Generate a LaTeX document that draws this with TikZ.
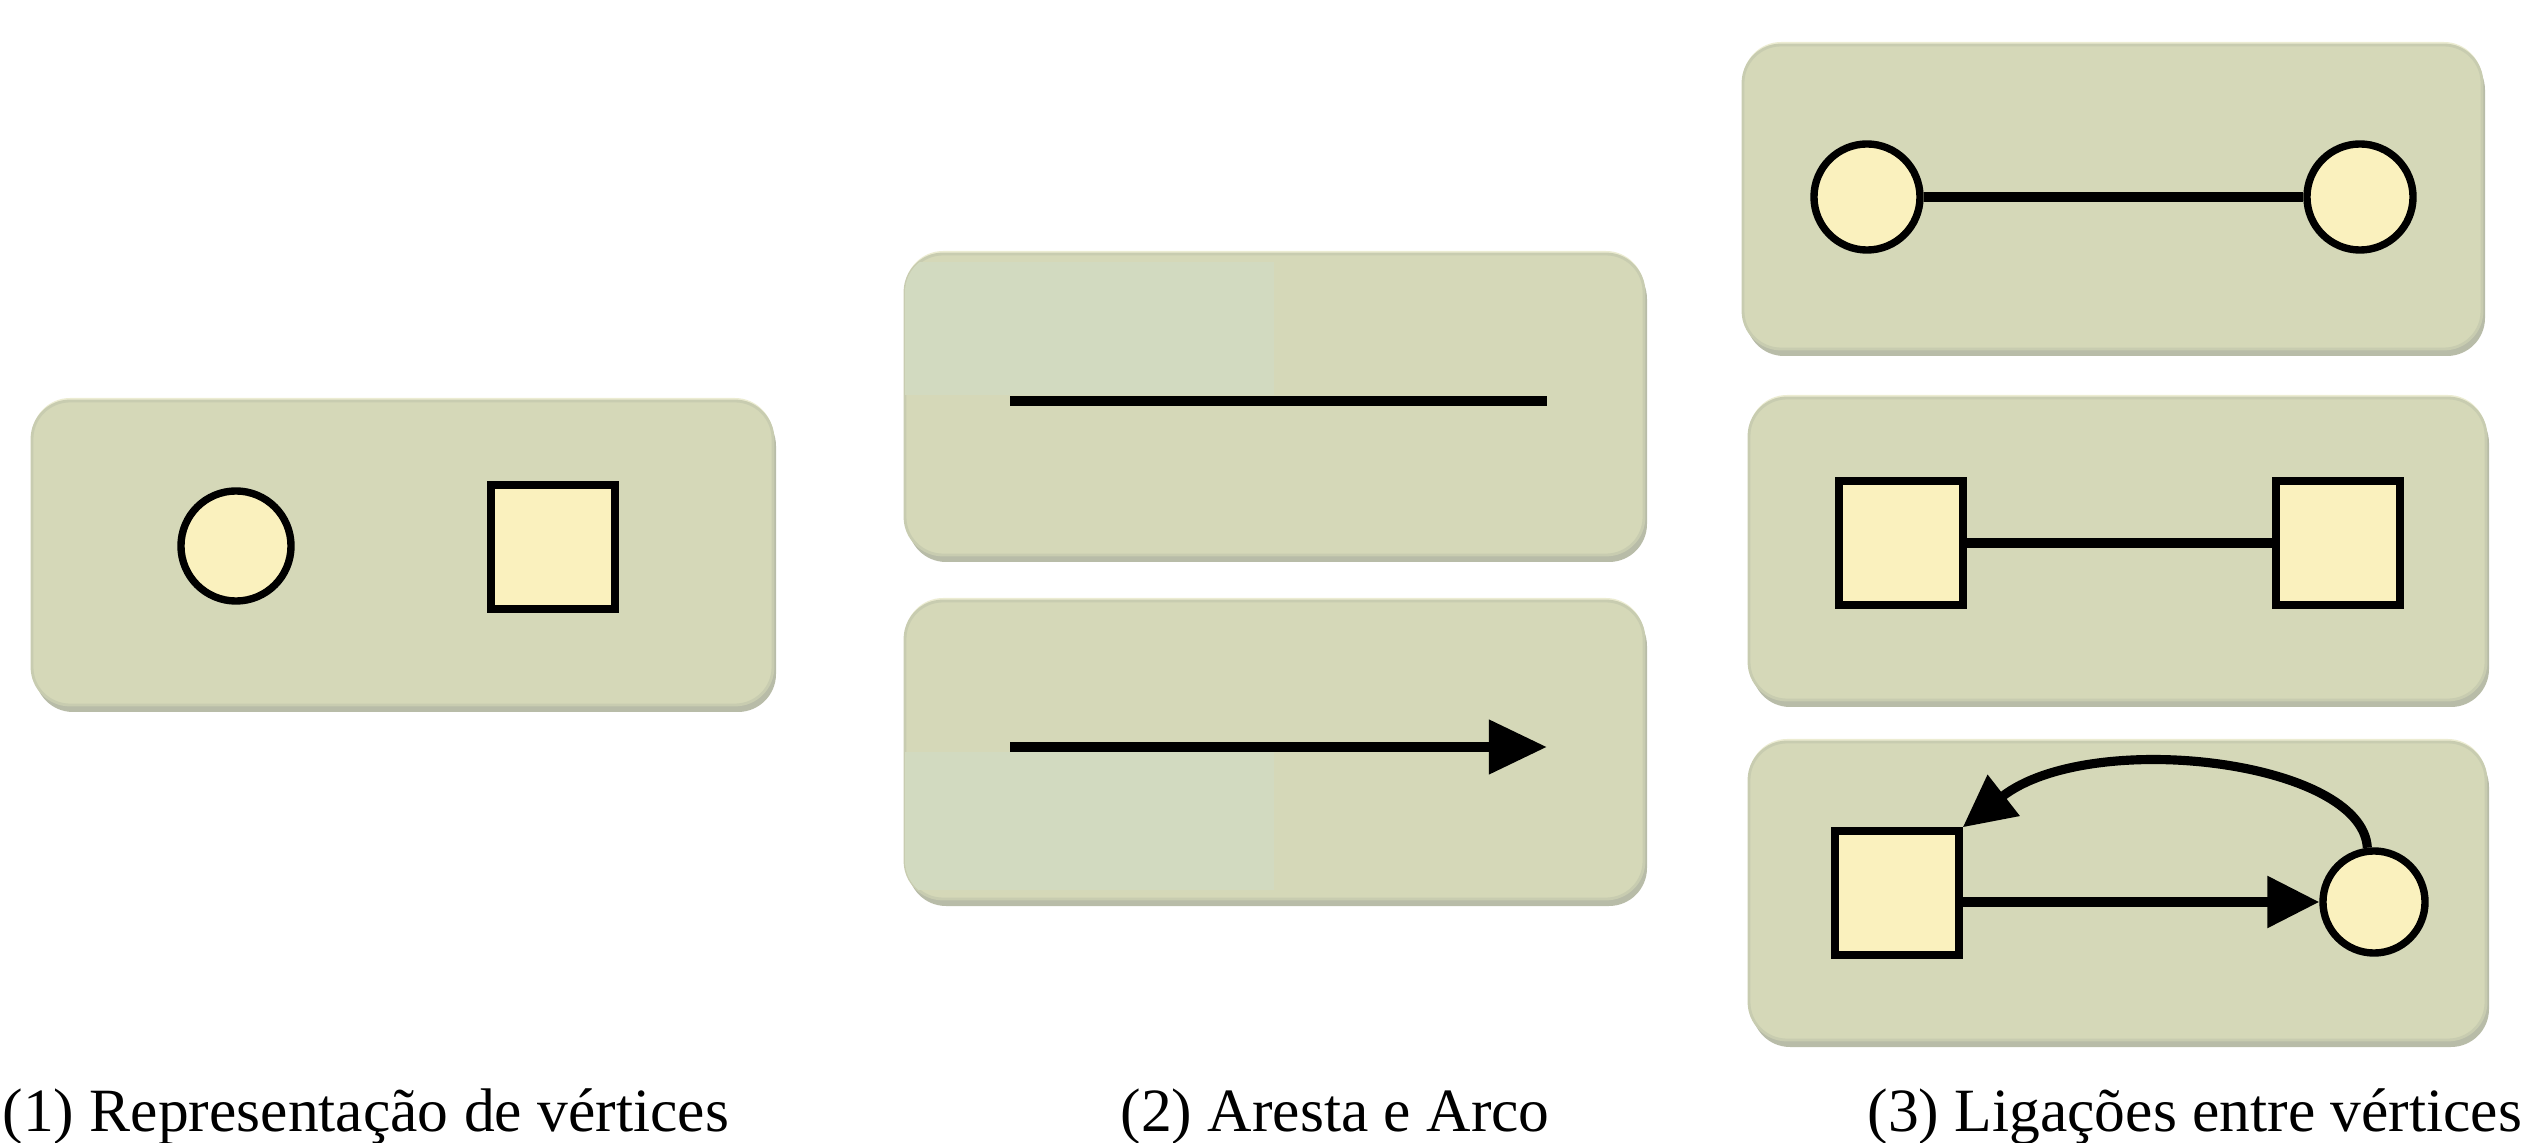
\documentclass[tikz,border=0pt]{standalone}
\usepackage{fontspec}
\setmainfont{Liberation Serif}
\usetikzlibrary{arrows.meta}
\definecolor{panelfill}{RGB}{213,216,184}
\definecolor{panelleft}{RGB}{210,218,192}
\definecolor{panelshade}{RGB}{184,188,168}
\definecolor{panelrim}{RGB}{200,204,176}
\definecolor{panelhi}{RGB}{236,236,210}
\definecolor{vfill}{RGB}{250,241,190}
% rounded panel with a soft drop shade: #1,#2 top-left, #3,#4 bottom-right
\newcommand\drawpanel[4]{%
  \fill[panelshade,rounded corners=0.38cm] (#1+3,#2+7) rectangle (#3+3,#4+7);
  \fill[panelhi,rounded corners=0.38cm] (#1,#2-3) rectangle (#3,#4-6);
  \filldraw[panelbox] (#1,#2) rectangle (#3,#4);}
\begin{document}
\begin{tikzpicture}[x=0.01cm,y=-0.01cm,
  panelbox/.style={fill=panelfill,draw=panelrim,line width=0.8pt,rounded corners=0.38cm},
  vcirc/.style={circle,draw=black,fill=vfill,line width=2.1pt,minimum size=1.06cm,inner sep=0pt},
  vsq/.style={rectangle,draw=black,fill=vfill,line width=2.1pt,minimum size=1.24cm,inner sep=0pt},
  thickline/.style={line width=3pt,black},
  edgeline/.style={line width=2.6pt,black},
  bigarc/.style={thickline,-{Triangle[length=0.58cm,width=0.52cm]}},
  smallarc/.style={edgeline,-{Triangle[length=0.52cm,width=0.5cm]}},
  caption/.style={anchor=base west,font=\fontsize{17.5}{20}\selectfont,inner sep=0pt}]
\useasboundingbox (0,0) rectangle (2535,1143);

% (1) vertex shapes
\drawpanel{32}{401}{773}{705}
\node[vcirc,minimum size=1.1cm] (c1) at (236,546) {};
\node[vsq] (s1) at (553,547) {};

% (2) edge and arc
\drawpanel{905}{254}{1644}{555}
\begin{scope}
  \clip[rounded corners=0.38cm] (905,254) rectangle (1644,555);
  \fill[panelleft] (905,262) rectangle (1274,395);
\end{scope}
\coordinate (a1) at (1010,401);
\coordinate (a2) at (1547,401);
\draw[thickline] (a1) -- (a2);

\drawpanel{905}{601}{1644}{899}
\begin{scope}
  \clip[rounded corners=0.38cm] (905,601) rectangle (1644,899);
  \fill[panelleft] (905,752) rectangle (1274,890);
\end{scope}
\coordinate (b1) at (1010,747);
\coordinate (b2) at (1547,747);
\draw[bigarc] (b1) -- (b2);

% (3) links between vertices
\drawpanel{1743}{45}{2482}{349}
\node[vcirc] (u1) at (1867,197) {};
\node[vcirc] (u2) at (2360,197) {};
\draw[edgeline] (u1) -- (u2);

\drawpanel{1749}{398}{2486}{700}
\node[vsq] (q1) at (1901,543) {};
\node[vsq] (q2) at (2338,543) {};
\draw[edgeline] (q1) -- (q2);

\drawpanel{1749}{742}{2486}{1040}
\node[vsq] (p1) at (1897,893) {};
\node[vcirc,minimum size=1.02cm] (p2) at (2374,902) {};
\draw[smallarc] (p1.east |- p2.west) -- (p2.west);
\draw[smallarc] (p2.97) .. controls (2362,760) and (2090,728) .. (p1.north east);

% captions
\node[caption] (t1) at (2,1131) {(1) Representação de vértices};
\node[caption] (t2) at (1120,1131) {(2) Aresta e Arco};
\node[caption] (t3) at (1867,1131) {(3) Ligações entre vértices};
\end{tikzpicture}
\end{document}
